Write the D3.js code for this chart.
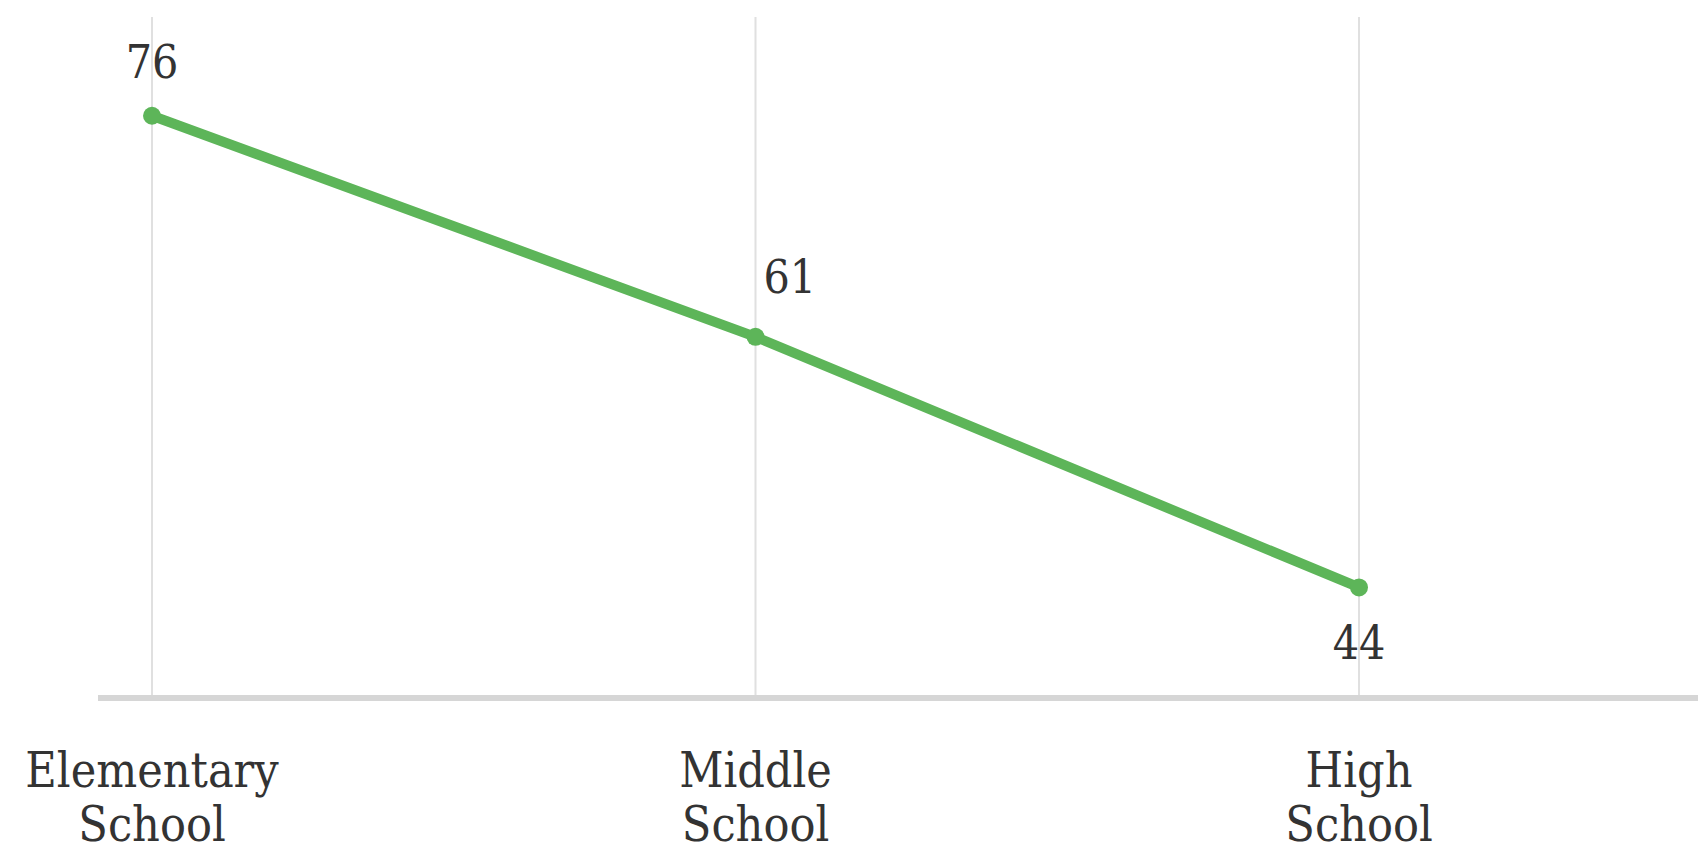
<!DOCTYPE html>
<html>
<head>
<meta charset="utf-8">
<script src="https://cdn.jsdelivr.net/npm/d3@7"></script>
<style>
  html, body { margin: 0; padding: 0; background: #ffffff; }
  svg { display: block; }
  text { font-family: "DejaVu Serif Condensed", "DejaVu Serif", serif; fill: #333333; }
</style>
</head>
<body>
<svg id="chart" width="1698" height="854"></svg>
<script>
const categories = ["Elementary School", "Middle School", "High School"];
const categoryLines = [["Elementary", "School"], ["Middle", "School"], ["High", "School"]];
const values = [76, 61, 44];
const labelPlacement = ["above", "above-right", "below"];

const W = 1698, H = 854;
const svg = d3.select("#chart");

const x = d3.scalePoint().domain(categories).range([152, 1359]);
const y = d3.scaleLinear().domain([36.5, 82.7]).range([698, 17]);

// vertical gridlines
svg.append("g").selectAll("line").data(categories).join("line")
  .attr("x1", d => x(d)).attr("x2", d => x(d))
  .attr("y1", y(82.7)).attr("y2", y(36.5))
  .attr("stroke", "#e0e0e0").attr("stroke-width", 2);

// baseline axis
svg.append("line")
  .attr("x1", 98).attr("x2", W)
  .attr("y1", y(36.5)).attr("y2", y(36.5))
  .attr("stroke", "#d6d6d6").attr("stroke-width", 6);

// category labels
const cl = svg.append("g").selectAll("text").data(categories).join("text")
  .attr("text-anchor", "middle")
  .attr("font-size", 48)
  .attr("x", d => x(d));
cl.each(function(d, i) {
  const t = d3.select(this);
  categoryLines[i].forEach((ln, j) => {
    t.append("tspan").attr("x", x(d)).attr("y", 787 + j * 54).text(ln);
  });
});

// line
const data = categories.map((c, i) => ({ c, v: values[i], p: labelPlacement[i] }));
svg.append("path").datum(data)
  .attr("fill", "none")
  .attr("stroke", "#5db559")
  .attr("stroke-width", 10)
  .attr("stroke-linecap", "round")
  .attr("stroke-linejoin", "round")
  .attr("d", d3.line().x(d => x(d.c)).y(d => y(d.v)));

svg.append("g").selectAll("circle").data(data).join("circle")
  .attr("cx", d => x(d.c)).attr("cy", d => y(d.v)).attr("r", 9)
  .attr("fill", "#5db559");

// value labels
svg.append("g").selectAll("text").data(data).join("text")
  .attr("font-size", 46)
  .attr("text-anchor", d => d.p === "above-right" ? "start" : "middle")
  .attr("x", d => d.p === "above-right" ? x(d.c) + 8 : x(d.c))
  .attr("y", d => d.p === "below" ? y(d.v) + 72 : (d.p === "above-right" ? y(d.v) - 44 : y(d.v) - 38))
  .text(d => d.v);
</script>
</body>
</html>
